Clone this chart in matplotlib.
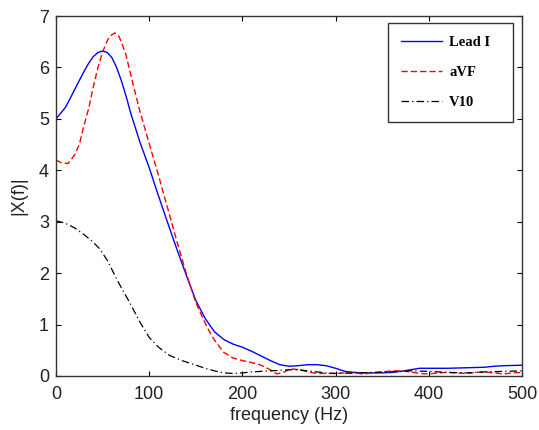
import numpy as np
import matplotlib
matplotlib.use("Agg")
import matplotlib.pyplot as plt

# spectra
f_lead1 = [0, 10, 15, 20, 30, 35, 40, 45, 50, 55, 60, 65, 70, 76, 80, 90, 94, 100, 110,
           120, 130, 140, 150, 160, 170, 180, 190, 200, 210, 220, 230, 240, 250, 260,
           270, 280, 290, 300, 310, 320, 330, 340, 350, 360, 370, 380, 390, 400, 420,
           440, 460, 470, 480, 500]
x_lead1 = [5.0, 5.22, 5.39, 5.57, 5.92, 6.08, 6.21, 6.29, 6.32, 6.29, 6.19, 6.0, 5.75,
           5.39, 5.12, 4.55, 4.35, 4.05, 3.5, 2.97, 2.45, 1.95, 1.47, 1.12, 0.86, 0.71,
           0.62, 0.56, 0.48, 0.39, 0.3, 0.22, 0.19, 0.2, 0.22, 0.22, 0.2, 0.15, 0.09,
           0.07, 0.06, 0.06, 0.06, 0.07, 0.09, 0.12, 0.15, 0.15, 0.15, 0.16, 0.17,
           0.19, 0.2, 0.21]

f_avf = [0, 5, 13, 20, 25, 29, 35, 40, 45, 50, 55, 58, 63, 67, 70, 75, 83, 90, 100,
         110, 117, 120, 130, 140, 150, 160, 165, 170, 180, 190, 200, 210, 220, 230,
         237, 245, 252, 262, 270, 280, 290, 300, 310, 320, 330, 340, 350, 360, 370,
         380, 390, 400, 410, 420, 430, 440, 450, 460, 470, 480, 490, 500]
x_avf = [4.2, 4.15, 4.13, 4.3, 4.5, 4.8, 5.2, 5.62, 6.0, 6.3, 6.52, 6.61, 6.67, 6.62,
         6.5, 6.25, 5.65, 5.15, 4.52, 3.9, 3.44, 3.25, 2.6, 1.98, 1.43, 1.03, 0.85,
         0.7, 0.46, 0.35, 0.3, 0.26, 0.21, 0.12, 0.04, 0.08, 0.14, 0.12, 0.08, 0.05,
         0.05, 0.05, 0.06, 0.06, 0.04, 0.06, 0.08, 0.1, 0.1, 0.08, 0.05, 0.04, 0.06,
         0.07, 0.06, 0.05, 0.07, 0.08, 0.06, 0.04, 0.06, 0.07]

f_v10 = [0, 10, 20, 30, 40, 47, 55, 65, 70, 79, 90, 100, 110, 122, 135, 147, 160, 170,
         180, 190, 200, 210, 220, 230, 240, 250, 260, 270, 280, 290, 300, 320, 340,
         360, 380, 400, 420, 440, 460, 480, 500]
x_v10 = [3.02, 2.97, 2.88, 2.75, 2.6, 2.47, 2.25, 1.89, 1.72, 1.43, 1.05, 0.75, 0.56,
         0.4, 0.3, 0.23, 0.15, 0.1, 0.06, 0.05, 0.06, 0.08, 0.09, 0.1, 0.11, 0.12,
         0.12, 0.1, 0.08, 0.06, 0.05, 0.06, 0.07, 0.08, 0.1, 0.09, 0.07, 0.06, 0.08,
         0.09, 0.1]

labels = ["Lead I", "aVF", "V10"]
xticks = [0, 100, 200, 300, 400, 500]
yticks = [0, 1, 2, 3, 4, 5, 6, 7]

plt.rcParams['font.family'] = ['Liberation Sans', 'DejaVu Sans']

fig = plt.figure(figsize=(5.39, 4.30), dpi=100)
ax = fig.add_axes([56 / 539, 1 - 376 / 430, 466 / 539, 360 / 430])

ax.plot(f_lead1, x_lead1, color='blue', lw=1.0, label=labels[0])
ax.plot(f_avf, x_avf, color='red', lw=1.0, linestyle=(0, (4.5, 2.2)), label=labels[1])
ax.plot(f_v10, x_v10, color='black', lw=0.9, linestyle=(0, (6, 2.5, 1, 2.5)), label=labels[2])

ax.set_xlim(0, 500)
ax.set_ylim(0, 7)
ax.set_xticks(xticks)
ax.set_yticks(yticks)
ax.tick_params(direction='in', top=True, right=True, length=3.5, width=0.8,
               labelsize=13, labelcolor='#222222', pad=5)
ax.tick_params(axis='x', pad=7)
for s in ax.spines.values():
    s.set_color('#333333')
    s.set_linewidth(1.0)

ax.set_xlabel("frequency (Hz)", fontsize=13, color='#222222', labelpad=3)
ax.set_ylabel("|X(f)|", fontsize=13, color='#222222', labelpad=8.5)

leg = ax.legend(loc='upper left', bbox_to_anchor=(0.712, 0.4, 0.268, 0.5806),
                mode='expand', borderaxespad=0, fancybox=False, frameon=True,
                edgecolor='black', handlelength=2.8, handletextpad=0.5,
                labelspacing=1.15, borderpad=0.9,
                prop={'family': 'Liberation Serif', 'weight': 'bold', 'size': 10.5})
leg.get_frame().set_linewidth(1.0)

fig.savefig("out.png", dpi=100)
